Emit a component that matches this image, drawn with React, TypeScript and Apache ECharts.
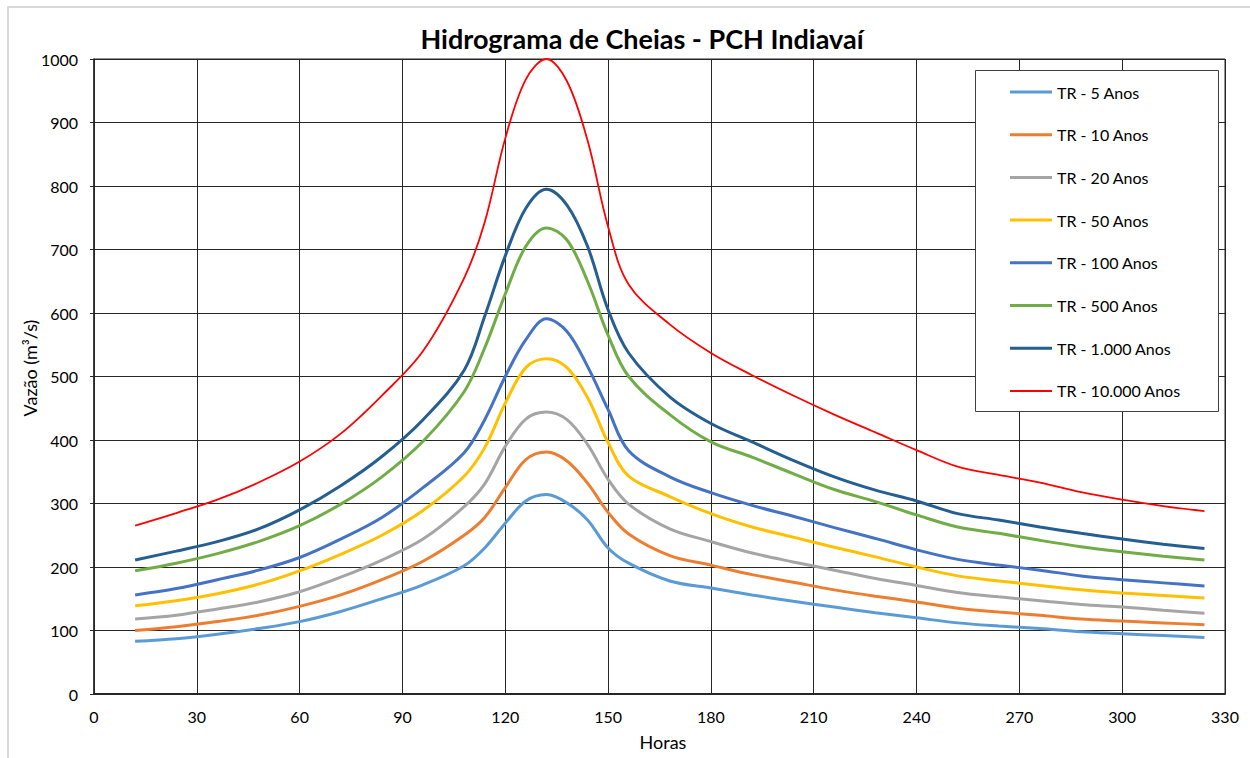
import React, { useEffect, useRef } from "react";
import * as echarts from "echarts";

// Time axis (hours) shared by every flood hydrograph; denser around the peak
const hours = [12, 24, 36, 48, 60, 72, 84, 96, 108, 114, 120, 126, 132, 138, 144, 150, 156, 168, 180, 192, 204, 216, 228, 240, 252, 264, 276, 288, 300, 312, 324];

// Discharge (m³/s) per return period
const tr5 = [83, 87, 94, 103, 114, 130, 150, 172, 202, 230, 269, 304, 314, 301, 274, 230, 206, 178, 167, 156, 146, 137, 128, 120, 112, 107, 103, 98, 95, 92, 89];
const tr10 = [100, 106, 114, 124, 138, 156, 180, 209, 250, 278, 325, 369, 381, 367, 332, 286, 252, 218, 203, 188, 176, 164, 154, 145, 135, 129, 124, 118, 115, 112, 109];
const tr20 = [118, 124, 134, 145, 161, 184, 211, 244, 295, 331, 390, 433, 444, 432, 393, 338, 299, 260, 240, 222, 208, 195, 182, 171, 160, 153, 147, 141, 137, 132, 127];
const tr50 = [139, 147, 158, 173, 194, 220, 250, 289, 343, 388, 458, 514, 528, 514, 467, 396, 343, 311, 284, 263, 247, 231, 216, 200, 186, 178, 171, 164, 159, 155, 151];
const tr100 = [156, 166, 180, 195, 215, 244, 278, 325, 380, 432, 500, 558, 591, 571, 516, 448, 383, 342, 317, 297, 280, 262, 245, 227, 212, 203, 195, 186, 180, 175, 170];
const tr500 = [194, 206, 221, 240, 265, 299, 342, 398, 476, 545, 630, 705, 734, 715, 650, 565, 500, 440, 397, 373, 347, 322, 303, 282, 263, 253, 242, 232, 224, 217, 211];
const tr1000 = [211, 225, 240, 260, 290, 328, 374, 432, 510, 595, 690, 765, 795, 770, 705, 605, 537, 468, 426, 397, 368, 342, 321, 304, 284, 274, 263, 253, 244, 236, 229];
const tr10000 = [265, 285, 306, 333, 366, 410, 470, 540, 655, 743, 875, 968, 1000, 965, 872, 736, 645, 582, 537, 502, 470, 440, 412, 384, 358, 345, 333, 318, 306, 296, 288];

const seriesNames = ["TR - 5 Anos", "TR - 10 Anos", "TR - 20 Anos", "TR - 50 Anos", "TR - 100 Anos", "TR - 500 Anos", "TR - 1.000 Anos", "TR - 10.000 Anos"];
const seriesValues = [tr5, tr10, tr20, tr50, tr100, tr500, tr1000, tr10000];
const seriesColors = ["#5B9BD5", "#ED7D31", "#A5A5A5", "#FFC000", "#4472C4", "#70AD47", "#255E91", "#FF0000"];
const seriesWidths = [3, 3, 3, 3, 3, 3, 3, 1.8];

const FONT = "Lato, 'Open Sans', sans-serif";
const GRID_COLOR = "#262626";

// Legend swatches: a thick bar for most series, a thinner one for the red line
const THICK_BAR = "path://M0,0 L42,0 L42,3 L0,3 Z";
const THIN_BAR = "path://M0,0.5 L42,0.5 L42,2.5 L0,2.5 Z";

export default function App() {
  const ref = useRef<HTMLDivElement>(null);

  useEffect(() => {
    if (!ref.current) return;
    const chart = echarts.init(ref.current, undefined, { renderer: "svg" });

    const series = seriesNames.map((name, i) => ({
      name,
      type: "line",
      data: hours.map((h, k) => [h, seriesValues[i][k]]),
      smooth: 0.35,
      symbol: "none",
      showSymbol: false,
      lineStyle: { color: seriesColors[i], width: seriesWidths[i] },
      itemStyle: { color: seriesColors[i] },
      z: 3,
    }));

    chart.setOption({
      animation: false,
      backgroundColor: "#ffffff",
      grid: { left: 94, right: 25, top: 59, bottom: 64, show: true, borderColor: GRID_COLOR, borderWidth: 1 },
      xAxis: {
        type: "value",
        min: 0,
        max: 330,
        interval: 30,
        axisLine: { show: true, onZero: false, lineStyle: { color: GRID_COLOR, width: 2 } },
        axisTick: { show: false },
        axisLabel: { color: "#000", fontFamily: FONT, fontSize: 16, margin: 14 },
        splitLine: { show: true, lineStyle: { color: GRID_COLOR, width: 1 } },
      },
      yAxis: {
        type: "value",
        min: 0,
        max: 1000,
        interval: 100,
        axisLine: { show: true, lineStyle: { color: GRID_COLOR, width: 1.5 } },
        axisTick: { show: true, length: 4, lineStyle: { color: GRID_COLOR } },
        axisLabel: { color: "#000", fontFamily: FONT, fontSize: 16, margin: 16, formatter: (v: number) => String(v) },
        splitLine: { show: true, lineStyle: { color: GRID_COLOR, width: 1 } },
      },
      legend: {
        orient: "vertical",
        left: 1010,
        top: 84,
        padding: 0,
        z: 8,
        itemWidth: 42,
        itemHeight: 3,
        itemGap: 26.7,
        textStyle: { color: "#000", fontFamily: FONT, fontSize: 16, lineHeight: 16 },
        data: seriesNames.map((name, i) => ({
          name,
          icon: seriesWidths[i] < 2.5 ? THIN_BAR : THICK_BAR,
          itemStyle: { color: seriesColors[i], borderWidth: 0 },
        })),
      },
      graphic: [
        {
          type: "rect",
          shape: { x: 8, y: 7, width: 1260, height: 770 },
          style: { fill: "none", stroke: "#d9d9d9", lineWidth: 2 },
          silent: true,
          z: 0,
        },
        {
          type: "rect",
          shape: { x: 975.5, y: 70.5, width: 243, height: 341 },
          style: { fill: "#ffffff", stroke: "#404040", lineWidth: 1 },
          silent: true,
          z: 4,
        },
        {
          type: "text",
          x: 642,
          y: 38,
          style: {
            text: "Hidrograma de Cheias - PCH Indiavaí",
            fontFamily: FONT,
            fontSize: 27,
            fontWeight: "bold",
            fill: "#000",
            align: "center",
            verticalAlign: "middle",
          },
          z: 10,
        },
        {
          type: "text",
          x: 30,
          y: 368,
          rotation: Math.PI / 2,
          style: {
            text: "Vazão (m³/s)",
            fontFamily: FONT,
            fontSize: 18,
            fill: "#000",
            align: "center",
            verticalAlign: "middle",
          },
          z: 10,
        },
        {
          type: "text",
          x: 663,
          y: 742,
          style: {
            text: "Horas",
            fontFamily: FONT,
            fontSize: 18,
            fill: "#000",
            align: "center",
            verticalAlign: "middle",
          },
          z: 10,
        },
      ],
      series,
    });

    return () => chart.dispose();
  }, []);

  return <div ref={ref} style={{ position: "fixed", left: 0, top: 0, width: 1250, height: 758 }} />;
}
